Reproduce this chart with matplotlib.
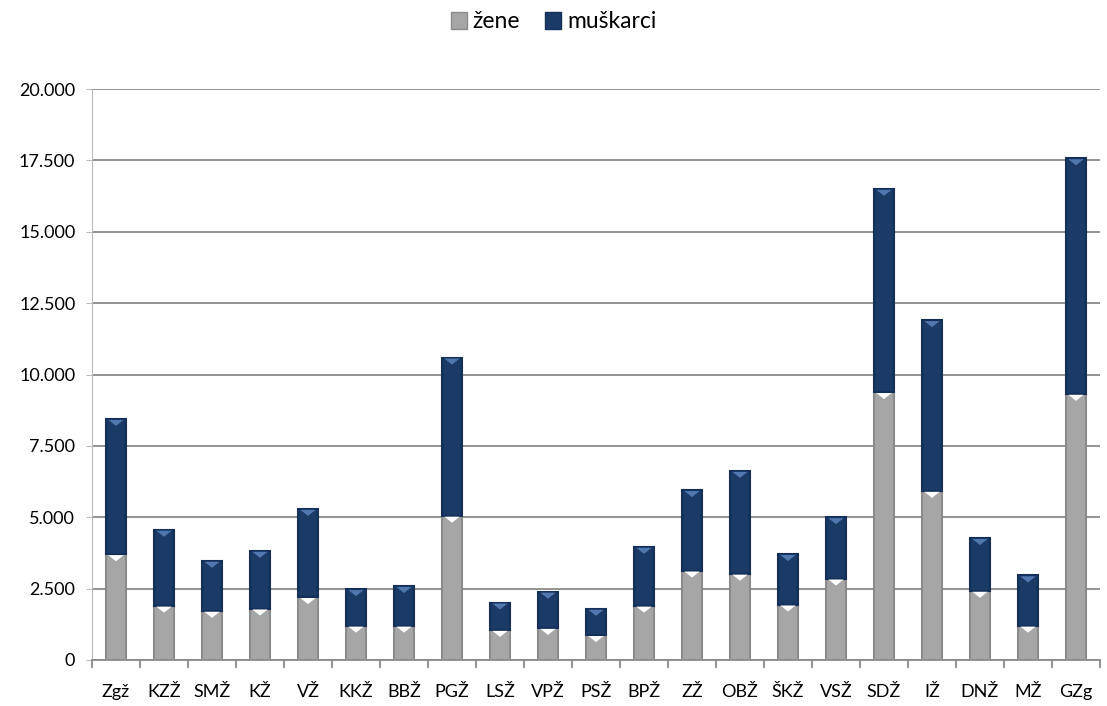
import matplotlib
matplotlib.use("Agg")
import matplotlib.pyplot as plt
from matplotlib.ticker import FixedLocator, FuncFormatter
from matplotlib.patches import Patch
import numpy as np

categories = ["Zgž", "KZŽ", "SMŽ", "KŽ", "VŽ", "KKŽ", "BBŽ", "PGŽ", "LSŽ", "VPŽ", "PSŽ",
              "BPŽ", "ZŽ", "OBŽ", "ŠKŽ", "VSŽ", "SDŽ", "IŽ", "DNŽ", "MŽ", "GZg"]
zene = [3700, 1900, 1720, 1800, 2200, 1200, 1200, 5050, 1050, 1120, 870,
        1900, 3130, 3020, 1940, 2850, 9380, 5920, 2420, 1200, 9320]
ukupno = [8440, 4560, 3470, 3820, 5290, 2480, 2590, 10590, 2010, 2390, 1790,
          3960, 5950, 6620, 3710, 5000, 16500, 11900, 4270, 2960, 17570]
muskarci = [t - z for t, z in zip(ukupno, zene)]
yticks = [0, 2500, 5000, 7500, 10000, 12500, 15000, 17500, 20000]

plt.rcParams['font.family'] = ['Lato', 'DejaVu Sans']

fig = plt.figure(figsize=(11.07, 7.06), dpi=100)
ax = fig.add_axes([92/1107, 46/706, 1008/1107, 571/706])

x = np.arange(len(categories))
w = 0.41
gray = "#A6A6A6"
blue = "#1B3A66"

ax.bar(x, zene, w, color=gray, edgecolor="#8C8C8C", linewidth=1.5, zorder=3)
ax.bar(x, muskarci, w, bottom=zene, color=blue, edgecolor="#14305A", linewidth=1.5, zorder=3)
# bevel highlights at the top of each segment
tri = [(-1, 0), (1, 0), (0, -0.8), (-1, 0)]
ax.scatter(x, np.array(zene) - 30, marker=tri, s=120, color="white", edgecolors="none", zorder=4)
ax.scatter(x, np.array(ukupno) - 30, marker=tri, s=120, color="#5078AE", edgecolors="none", zorder=4)

ax.set_xlim(-0.5, len(categories) - 0.5)
ax.set_ylim(0, 20000)
ax.yaxis.set_major_locator(FixedLocator(yticks))
ax.yaxis.set_major_formatter(FuncFormatter(lambda v, p: f"{int(v):,}".replace(",", ".")))
ax.grid(axis="y", color="#8A8A8A", linewidth=1.3, zorder=0)
ax.set_axisbelow(True)

ax.set_xticks(x)
ax.set_xticklabels(categories)
ax.set_xticks(np.arange(-0.5, len(categories), 1.0), minor=True)
ax.tick_params(axis="x", which="major", length=0, pad=17, labelsize=13)
ax.tick_params(axis="x", which="minor", length=6, color="#8A8A8A", width=1.3)
ax.tick_params(axis="y", length=4, color="#BBBBBB", labelsize=13, pad=8)

for s in ["top", "right"]:
    ax.spines[s].set_visible(False)
ax.spines["left"].set_color("#BBBBBB")
ax.spines["left"].set_linestyle((0, (1, 1)))
ax.spines["bottom"].set_color("#8A8A8A")
ax.spines["bottom"].set_linewidth(1.3)

handles = [Patch(facecolor=gray, edgecolor="#8C8C8C"), Patch(facecolor=blue, edgecolor="#14305A")]
fig.legend(handles, ["žene", "muškarci"], loc="center", bbox_to_anchor=(0.5, 1 - 22/706),
           ncol=2, frameon=False, fontsize=16.5, handlelength=0.7, handleheight=0.7,
           handletextpad=0.25, columnspacing=1.1)

fig.savefig("out.png", dpi=100)
